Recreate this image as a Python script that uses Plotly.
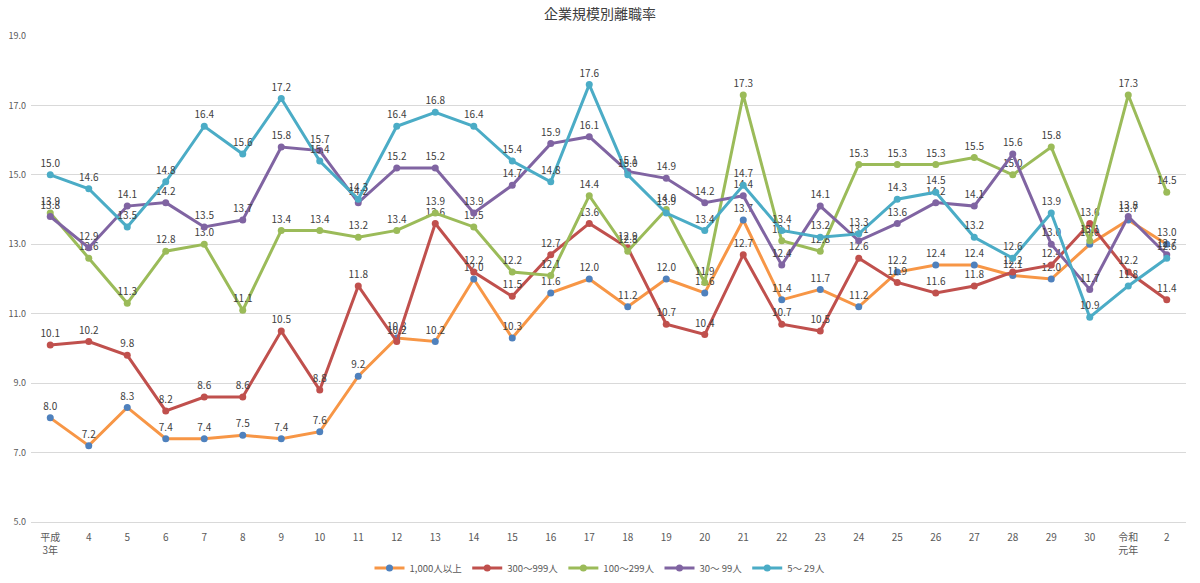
import plotly.graph_objects as go

# 和暦の年（平成3年〜令和2年）
years = ["平成<br>3年"] + [str(y) for y in range(4, 31)] + ["令和<br>元年", "2"]

# 企業規模別の離職率（%）
rate_1000 = [8.0, 7.2, 8.3, 7.4, 7.4, 7.5, 7.4, 7.6, 9.2, 10.3,
             10.2, 12.0, 10.3, 11.6, 12.0, 11.2, 12.0, 11.6, 13.7, 11.4,
             11.7, 11.2, 12.2, 12.4, 12.4, 12.1, 12.0, 13.0, 13.7, 13.0]
rate_300 = [10.1, 10.2, 9.8, 8.2, 8.6, 8.6, 10.5, 8.8, 11.8, 10.2,
            13.6, 12.2, 11.5, 12.7, 13.6, 12.9, 10.7, 10.4, 12.7, 10.7,
            10.5, 12.6, 11.9, 11.6, 11.8, 12.2, 12.4, 13.6, 12.2, 11.4]
rate_100 = [13.9, 12.6, 11.3, 12.8, 13.0, 11.1, 13.4, 13.4, 13.2, 13.4,
            13.9, 13.5, 12.2, 12.1, 14.4, 12.8, 14.0, 11.9, 17.3, 13.1,
            12.8, 15.3, 15.3, 15.3, 15.5, 15.0, 15.8, 13.1, 17.3, 14.5]
rate_30 = [13.8, 12.9, 14.1, 14.2, 13.5, 13.7, 15.8, 15.7, 14.2, 15.2,
           15.2, 13.9, 14.7, 15.9, 16.1, 15.1, 14.9, 14.2, 14.4, 12.4,
           14.1, 13.1, 13.6, 14.2, 14.1, 15.6, 13.0, 11.7, 13.8, 12.7]
rate_5 = [15.0, 14.6, 13.5, 14.8, 16.4, 15.6, 17.2, 15.4, 14.3, 16.4,
          16.8, 16.4, 15.4, 14.8, 17.6, 15.0, 13.9, 13.4, 14.7, 13.4,
          13.2, 13.3, 14.3, 14.5, 13.2, 12.6, 13.9, 10.9, 11.8, 12.6]

series = [
    ("1,000人以上", rate_1000, "#F79646", "#4F81BD"),
    ("300〜999人", rate_300, "#C0504D", "#C0504D"),
    ("100〜299人", rate_100, "#9BBB59", "#9BBB59"),
    ("30〜 99人", rate_30, "#8064A2", "#8064A2"),
    ("5〜 29人", rate_5, "#4BACC6", "#4BACC6"),
]

FONT = "Noto Sans CJK JP"

fig = go.Figure()
for name, vals, line_col, mk_col in series:
    fig.add_trace(
        go.Scatter(
            x=years,
            y=vals,
            name=name,
            mode="lines+markers+text",
            line=dict(color=line_col, width=3),
            marker=dict(color=mk_col, size=7),
            text=[f"{v:.1f}" for v in vals],
            textposition="top center",
            textfont=dict(size=10, color="#404040", family=FONT),
        )
    )

fig.update_layout(
    width=1200,
    height=583,
    margin=dict(l=31, r=14, t=36, b=61),
    paper_bgcolor="white",
    plot_bgcolor="white",
    font=dict(family=FONT, color="#595959", size=10),
    title=dict(
        text="企業規模別離職率",
        x=0.5,
        y=1 - 14 / 583,
        xanchor="center",
        yanchor="middle",
        font=dict(size=14, color="#404040", family=FONT),
    ),
    xaxis=dict(
        type="category",
        range=[-0.5, 29.5],
        showgrid=False,
        showline=True,
        linecolor="#D9D9D9",
        linewidth=1,
        ticks="",
        automargin=False,
        ticklabelstandoff=6,
        tickfont=dict(size=10, color="#595959"),
    ),
    yaxis=dict(
        range=[5, 19],
        tick0=5,
        dtick=2,
        tickformat=".1f",
        showgrid=True,
        gridcolor="#D9D9D9",
        gridwidth=1,
        zeroline=False,
        ticks="",
        automargin=False,
        ticklabelstandoff=4,
        tickfont=dict(size=9, color="#595959"),
    ),
    legend=dict(
        orientation="h",
        x=0.5,
        xanchor="center",
        xref="container",
        y=1 - 568 / 583,
        yanchor="middle",
        yref="container",
        font=dict(size=9.5, color="#595959"),
        itemwidth=30,
    ),
    showlegend=True,
)

fig.write_html(
    "out.html",
    config={"displayModeBar": False},
    post_script="document.body.style.margin='0';",
)
